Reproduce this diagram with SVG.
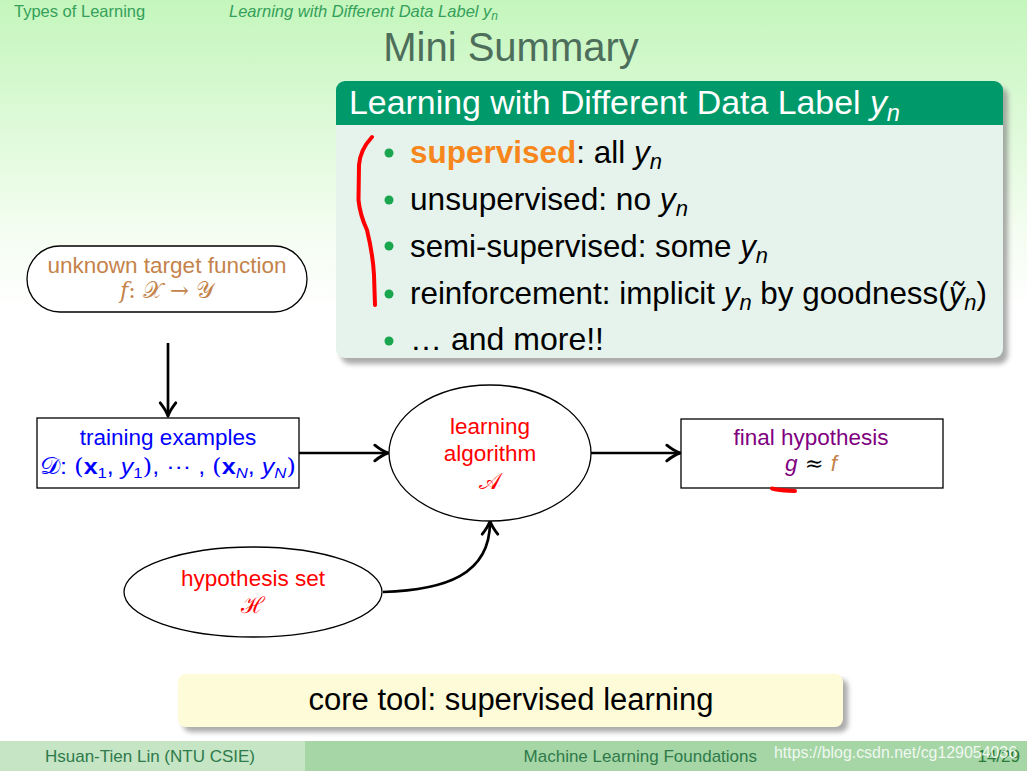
<svg xmlns="http://www.w3.org/2000/svg" width="1027" height="771" viewBox="0 0 1027 771">
<defs>
<linearGradient id="bg" x1="0" y1="0" x2="0" y2="1" gradientUnits="objectBoundingBox">
<stop offset="0" stop-color="#c4f6bc"/>
<stop offset="0.3" stop-color="#f4fdf1"/>
<stop offset="0.4" stop-color="#ffffff"/>
</linearGradient>
<filter id="blur" x="-5%" y="-5%" width="110%" height="115%"><feGaussianBlur stdDeviation="2.5"/></filter>
<marker id="ah" markerUnits="userSpaceOnUse" markerWidth="20" markerHeight="20" viewBox="-14 -9 18 18" refX="0" refY="0" orient="auto">
<path d="M-11,-7 Q-4,-1.5 1,0 Q-4,1.5 -11,7" fill="none" stroke="#000" stroke-width="2.6" stroke-linecap="round" stroke-linejoin="round"/>
</marker>
<style>
.sans{font-family:"Liberation Sans",Arial,sans-serif}
.math{font-family:"DejaVu Serif","Liberation Serif",serif}
.hdr{fill:#35a05a;font-size:16.5px}
.body{font-size:31.5px;fill:#000}
.node{font-size:22.5px;text-anchor:middle}
.edge{fill:none;stroke:#000;stroke-width:2.7;marker-end:url(#ah)}
.frame{fill:#fff;stroke:#000;stroke-width:1.3}
.dot{fill:#1aa64f}
.ink{fill:none;stroke:#ff0000;stroke-width:4;stroke-linecap:round;stroke-linejoin:round}
</style>
</defs>

<rect x="0" y="0" width="1027" height="771" fill="url(#bg)"/>

<g id="header" class="sans">
<text x="14" y="17" class="hdr">Types of Learning</text>
<text x="229" y="17" class="hdr" font-style="italic">Learning with Different Data Label <tspan>y</tspan><tspan font-size="12" dy="3">n</tspan></text>
<text x="511" y="61" text-anchor="middle" font-size="40" fill="#4e6e5c">Mini Summary</text>
</g>

<g id="summary-block" class="sans">
<rect x="341" y="87" width="667" height="277" rx="9" fill="#888" opacity="0.7" filter="url(#blur)"/>
<rect x="336" y="81" width="667" height="277" rx="9" fill="#e5f3ec"/>
<path d="M336,125 V90 a9,9 0 0 1 9,-9 H994 a9,9 0 0 1 9,9 V125 Z" fill="#009a6a"/>
<text x="349" y="114" font-size="33" fill="#fff" textLength="551" lengthAdjust="spacingAndGlyphs">Learning with Different Data Label <tspan font-style="italic">y</tspan><tspan font-style="italic" font-size="23" dy="7">n</tspan></text>
<circle class="dot" cx="389" cy="153" r="4.5"/>
<circle class="dot" cx="389" cy="200" r="4.5"/>
<circle class="dot" cx="389" cy="246" r="4.5"/>
<circle class="dot" cx="389" cy="294" r="4.5"/>
<circle class="dot" cx="389" cy="341" r="4.5"/>
<text x="410" y="163" class="body" textLength="252" lengthAdjust="spacingAndGlyphs"><tspan font-weight="bold" fill="#f7861c">supervised</tspan>: all <tspan font-style="italic">y</tspan><tspan font-style="italic" font-size="22" dy="6">n</tspan></text>
<text x="410" y="210" class="body" textLength="278" lengthAdjust="spacingAndGlyphs">unsupervised: no <tspan font-style="italic">y</tspan><tspan font-style="italic" font-size="22" dy="6">n</tspan></text>
<text x="410" y="257" class="body" textLength="358" lengthAdjust="spacingAndGlyphs">semi-supervised: some <tspan font-style="italic">y</tspan><tspan font-style="italic" font-size="22" dy="6">n</tspan></text>
<text x="410" y="304" class="body" textLength="577" lengthAdjust="spacingAndGlyphs">reinforcement: implicit <tspan font-style="italic">y</tspan><tspan font-style="italic" font-size="22" dy="6">n</tspan><tspan dy="-6"> by goodness(</tspan><tspan font-style="italic">ỹ</tspan><tspan font-style="italic" font-size="22" dy="6">n</tspan><tspan dy="-6">)</tspan></text>
<text x="410" y="350" class="body" textLength="194" lengthAdjust="spacingAndGlyphs">… and more!!</text>
</g>

<g id="core-tool" class="sans">
<rect x="183" y="679" width="665" height="53" rx="8" fill="#888" opacity="0.7" filter="url(#blur)"/>
<rect x="178" y="674" width="665" height="53" rx="8" fill="#fdfbd8"/>
<text x="511" y="710" text-anchor="middle" font-size="31" fill="#000">core tool: supervised learning</text>
</g>

<g id="connectors">
<line class="edge" x1="168" y1="343" x2="168" y2="415"/>
<line class="edge" x1="299" y1="453" x2="387" y2="453"/>
<line class="edge" x1="591" y1="453" x2="679" y2="453"/>
<path class="edge" d="M383,592 C445,590 490,575 490,522"/>
</g>

<g id="target-function">
<rect class="frame" x="27" y="246" width="280" height="66" rx="33"/>
<text x="167" y="273" class="sans node" fill="#c4834a">unknown target function</text>
<text x="167" y="298" class="math node" fill="#c4834a"><tspan font-style="italic">f</tspan>: 𝒳 → 𝒴</text>
</g>

<g id="training-examples">
<rect class="frame" x="37" y="418" width="262" height="70"/>
<text x="168" y="445" class="sans node" fill="#0000ff">training examples</text>
<text x="40" y="474" class="sans" font-size="22.5" fill="#0000ff" textLength="256" lengthAdjust="spacingAndGlyphs"><tspan class="math">𝒟</tspan>: <tspan class="math">(</tspan><tspan font-weight="bold">x</tspan><tspan font-size="15" dy="4">1</tspan><tspan dy="-4">, </tspan><tspan font-style="italic">y</tspan><tspan font-size="15" dy="4">1</tspan><tspan dy="-4" class="math">)</tspan>, ··· , <tspan class="math">(</tspan><tspan font-weight="bold">x</tspan><tspan font-size="15" font-style="italic" dy="4">N</tspan><tspan dy="-4">, </tspan><tspan font-style="italic">y</tspan><tspan font-size="15" font-style="italic" dy="4">N</tspan><tspan dy="-4" class="math">)</tspan></text>
</g>

<g id="learning-algorithm">
<ellipse class="frame" cx="490" cy="453" rx="101" ry="68"/>
<text x="490" y="434" class="sans node" fill="#ff0000">learning</text>
<text x="490" y="461" class="sans node" fill="#ff0000">algorithm</text>
<text x="490" y="489" class="math node" fill="#ff0000">𝒜</text>
</g>

<g id="final-hypothesis">
<rect class="frame" x="681" y="419" width="262" height="69"/>
<text x="811" y="445" class="sans node" fill="#800080">final hypothesis</text>
<text x="811" y="471" class="sans node"><tspan font-style="italic" fill="#800080">g</tspan><tspan class="math" fill="#000"> ≈ </tspan><tspan font-style="italic" fill="#c4834a">f</tspan></text>
</g>

<g id="hypothesis-set">
<ellipse class="frame" cx="253" cy="592" rx="129" ry="45"/>
<text x="253" y="586" class="sans node" fill="#ff0000">hypothesis set</text>
<text x="253" y="613" class="math node" fill="#ff0000">ℋ</text>
</g>

<g id="annotations">
<path class="ink" d="M372,137 Q360,150 359,165 L358.5,200 Q360,215 367,230 Q373,255 374,275 L375,305"/>
<path class="ink" d="M772,488.5 Q780,490.5 795,491"/>
</g>

<g id="footer" class="sans" font-size="17">
<rect x="0" y="741" width="305" height="30" fill="#c5e5c5"/>
<rect x="305" y="741" width="722" height="30" fill="#a6d6a6"/>
<text x="150" y="762" text-anchor="middle" fill="#2e7a4a">Hsuan-Tien Lin  (NTU CSIE)</text>
<text x="757" y="762" text-anchor="end" fill="#2e7a4a">Machine Learning Foundations</text>
<text x="1020" y="762" text-anchor="end" fill="#2a7a3a">14/29</text>
<text x="774" y="758" font-size="16" fill="#ffffff" fill-opacity="0.85" textLength="243" lengthAdjust="spacingAndGlyphs">https://blog.csdn.net/cg129054036</text>
</g>
</svg>
